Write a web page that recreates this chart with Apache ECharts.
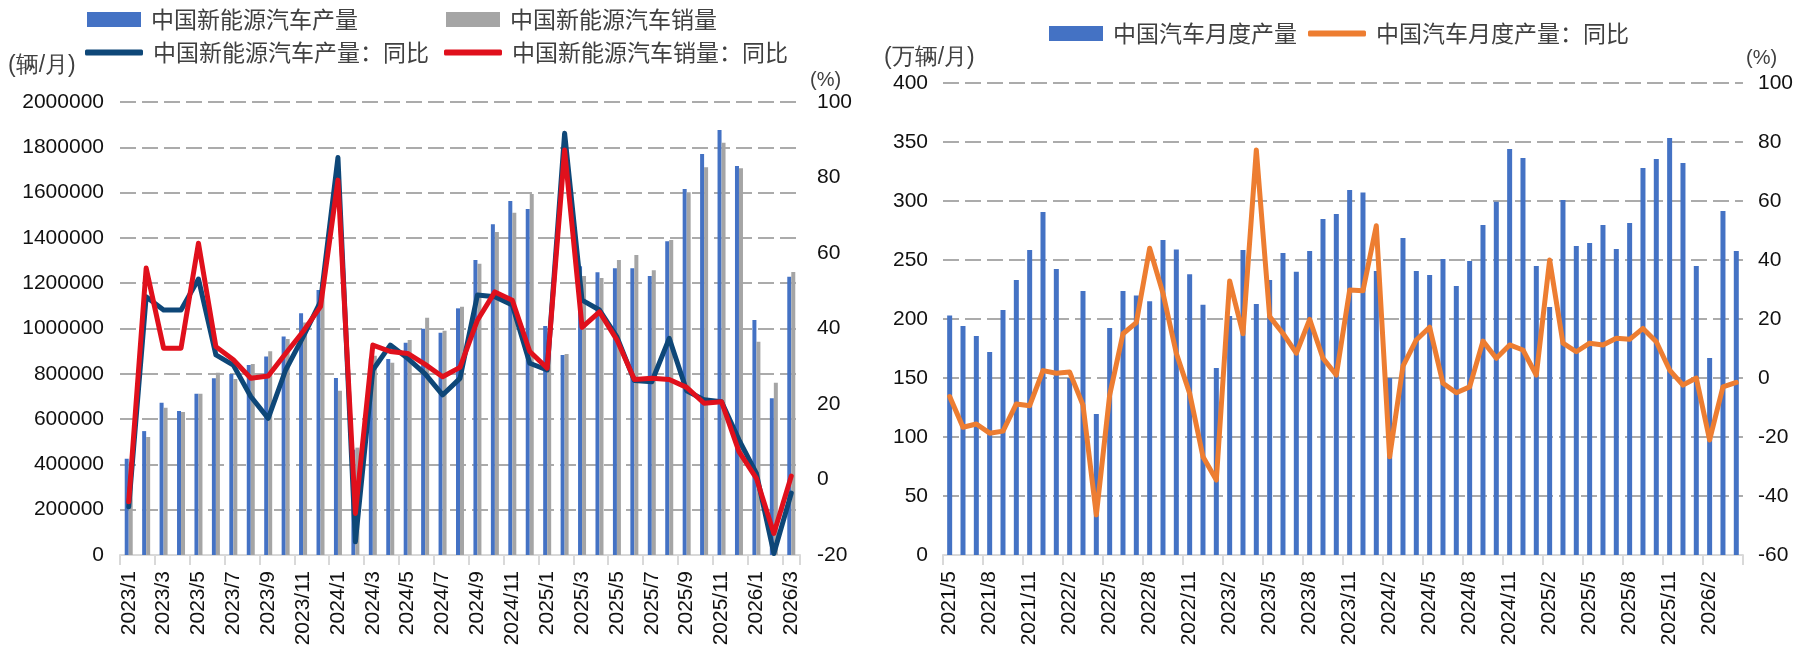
<!DOCTYPE html>
<html>
<head>
<meta charset="utf-8">
<script src="https://cdn.jsdelivr.net/npm/echarts@6/dist/echarts.min.js"></script>
<style>html,body{margin:0;padding:0;background:#fff}#c{width:1796px;height:654px}</style>
</head>
<body>
<div id="c"></div>
<script>
// ---- Left chart data (NEV, 2023/1 - 2026/3) ----
const catsL = ['2023/1','2023/2','2023/3','2023/4','2023/5','2023/6','2023/7','2023/8','2023/9','2023/10','2023/11','2023/12',
  '2024/1','2024/2','2024/3','2024/4','2024/5','2024/6','2024/7','2024/8','2024/9','2024/10','2024/11','2024/12',
  '2025/1','2025/2','2025/3','2025/4','2025/5','2025/6','2025/7','2025/8','2025/9','2025/10','2025/11','2025/12',
  '2026/1','2026/2','2026/3'];
const nevProd = [425000, 547000, 672000, 636000, 712000, 780000, 799000, 839000, 876000, 965000, 1067000, 1170000,
  781000, 465000, 868000, 865000, 937000, 999000, 981000, 1089000, 1302000, 1460000, 1563000, 1528000,
  1011000, 883000, 1275000, 1248000, 1266000, 1266000, 1232000, 1385000, 1616000, 1770000, 1876000, 1717000,
  1037000, 692000, 1229000];
const nevSales = [408000, 521000, 650000, 631000, 712000, 805000, 777000, 843000, 900000, 954000, 1026000, 1191000,
  725000, 474000, 880000, 849000, 949000, 1048000, 990000, 1096000, 1286000, 1426000, 1511000, 1594000,
  944000, 887000, 1232000, 1223000, 1302000, 1324000, 1257000, 1391000, 1601000, 1712000, 1820000, 1707000,
  942000, 761000, 1249000];
const nevProdYoY = [-7.2, 48.4, 44.9, 44.9, 53.1, 33, 30.3, 22, 16.2, 29, 37.8, 47.1,
  85.3, -16.5, 29, 35.6, 32.1, 28, 22.4, 26.8, 48.9, 48.4, 46.2, 30.8,
  29, 91.7, 47.5, 44.9, 37.8, 26.2, 25.9, 37.4, 23.5, 21.1, 20.6, 10.5,
  1.6, -19.6, -3.6];
const nevSalesYoY = [-5.9, 56, 34.8, 34.8, 62.6, 35.2, 31.7, 26.8, 27.4, 33.4, 39.2, 45.8,
  79.3, -9, 35.6, 33.9, 33.4, 30.5, 27.2, 29.7, 42.2, 49.7, 47.5, 33.9,
  29.5, 87.3, 40.3, 44.4, 37, 26.5, 26.8, 26.5, 24.4, 20.2, 20.6, 7.4,
  0.3, -14.3, 0.9];

// ---- Right chart data (all vehicles, 2021/5 - 2026/4) ----
const catsR = ['2021/5','2021/6','2021/7','2021/8','2021/9','2021/10','2021/11','2021/12',
  '2022/1','2022/2','2022/3','2022/4','2022/5','2022/6','2022/7','2022/8','2022/9','2022/10','2022/11','2022/12',
  '2023/1','2023/2','2023/3','2023/4','2023/5','2023/6','2023/7','2023/8','2023/9','2023/10','2023/11','2023/12',
  '2024/1','2024/2','2024/3','2024/4','2024/5','2024/6','2024/7','2024/8','2024/9','2024/10','2024/11','2024/12',
  '2025/1','2025/2','2025/3','2025/4','2025/5','2025/6','2025/7','2025/8','2025/9','2025/10','2025/11','2025/12',
  '2026/1','2026/2','2026/3','2026/4'];
const autoProd = [203, 194, 185.6, 172, 207.6, 233, 258.5, 290.7,
  242.4, 150, 223.7, 119.5, 192.4, 223.7, 220, 215, 267, 259, 238, 212,
  158.5, 202.5, 258.5, 212.7, 233, 256, 240, 257.6, 284.7, 289, 309.3, 307.3,
  240.7, 150, 268.6, 240.7, 237.3, 250.8, 228, 249.2, 279.7, 299.4, 344, 336.4,
  244.9, 210.2, 300.8, 261.9, 264.4, 279.7, 259.3, 281.4, 328, 335.6, 353.4, 332.2,
  244.9, 167, 291.5, 257.6];
const autoYoY = [-6.3, -16.7, -15.6, -18.7, -18, -8.8, -9.4, 2.5,
  1.6, 2, -9.2, -46.4, -5.8, 15, 18.8, 44, 28.7, 8.4, -5.2, -26.7,
  -34.6, 32.9, 15, 77.3, 20.8, 15.1, 8.4, 19.9, 6.7, 1, 29.8, 29.6,
  51.6, -26.7, 4, 12.9, 17.2, -1.8, -5, -3, 12.5, 6.7, 11.2, 9.5,
  1, 40, 11.8, 8.9, 11.8, 11.2, 13.5, 13.1, 16.8, 12.3, 2.7, -2.4,
  0, -21, -3, -1.5];

const NUM_FONT = 'Liberation Sans, Arial, sans-serif';
const CJK_FONT = 'Noto Sans CJK SC, sans-serif';
const gridLine = {show: true, lineStyle: {type: [16, 6], color: '#ABABAB', width: 2}};
const axisLineX = {show: true, lineStyle: {color: '#D9D9D9', width: 2}};
const numLabel = {color: '#111', fontSize: 21, fontFamily: NUM_FONT};

const chart = echarts.init(document.getElementById('c'), null, {renderer: 'canvas'});

function legendItem(name, left, top, icon, w, h) {
  return {
    show: true, selectedMode: false, data: [name], left: left, top: top, padding: 0,
    icon: icon, itemWidth: w, itemHeight: h,
    textStyle: {fontSize: 23, color: '#404040', fontFamily: CJK_FONT, padding: [0, 0, 0, 5]}
  };
}

chart.setOption({
  animation: false,
  backgroundColor: '#ffffff',
  grid: [
    {left: 120, right: 996, top: 102, bottom: 99, containLabel: false},
    {left: 943, right: 53, top: 83, bottom: 99, containLabel: false}
  ],
  legend: [
    legendItem('中国新能源汽车产量', 87, 8, 'rect', 54, 15),
    legendItem('中国新能源汽车销量', 446, 8, 'rect', 54, 15),
    legendItem('中国新能源汽车产量：同比', 85, 41, 'roundRect', 58, 6),
    legendItem('中国新能源汽车销量：同比', 444, 41, 'roundRect', 58, 6),
    legendItem('中国汽车月度产量', 1049, 22, 'rect', 54, 15),
    legendItem('中国汽车月度产量：同比', 1308, 22, 'roundRect', 58, 6)
  ],
  xAxis: [
    {type: 'category', gridIndex: 0, data: catsL, boundaryGap: true,
     axisLine: axisLineX,
     axisTick: {show: true, interval: 1, length: 10, lineStyle: {color: '#D9D9D9', width: 2}},
     axisLabel: Object.assign({}, numLabel, {interval: 1, rotate: 90, margin: 16}),
     splitLine: {show: false}},
    {type: 'category', gridIndex: 1, data: catsR, boundaryGap: true,
     axisLine: axisLineX,
     axisTick: {show: true, interval: 2, length: 10, lineStyle: {color: '#D9D9D9', width: 2}},
     axisLabel: Object.assign({}, numLabel, {interval: 2, rotate: 90, margin: 16}),
     splitLine: {show: false}}
  ],
  yAxis: [
    {type: 'value', gridIndex: 0, min: 0, max: 2000000, interval: 200000, position: 'left',
     axisLine: {show: false}, axisTick: {show: false},
     axisLabel: Object.assign({}, numLabel, {margin: 16, formatter: v => String(v)}),
     splitLine: gridLine},
    {type: 'value', gridIndex: 0, min: -20, max: 100, interval: 20, position: 'right',
     axisLine: {show: false}, axisTick: {show: false},
     axisLabel: Object.assign({}, numLabel, {margin: 17}),
     splitLine: {show: false}},
    {type: 'value', gridIndex: 1, min: 0, max: 400, interval: 50, position: 'left',
     axisLine: {show: false}, axisTick: {show: false},
     axisLabel: Object.assign({}, numLabel, {margin: 15}),
     splitLine: gridLine},
    {type: 'value', gridIndex: 1, min: -60, max: 100, interval: 20, position: 'right',
     axisLine: {show: false}, axisTick: {show: false},
     axisLabel: Object.assign({}, numLabel, {margin: 15}),
     splitLine: {show: false}}
  ],
  series: [
    {type: 'bar', name: '中国新能源汽车产量', xAxisIndex: 0, yAxisIndex: 0, data: nevProd,
     barWidth: 4, barGap: '0%', itemStyle: {color: '#4472C4'}, z: 2},
    {type: 'bar', name: '中国新能源汽车销量', xAxisIndex: 0, yAxisIndex: 0, data: nevSales,
     barWidth: 4, barGap: '0%', itemStyle: {color: '#A5A5A5'}, z: 2},
    {type: 'line', name: '中国新能源汽车产量：同比', xAxisIndex: 0, yAxisIndex: 1, data: nevProdYoY,
     symbol: 'none', lineStyle: {width: 5, color: '#0E4778', join: 'round', cap: 'round'},
     itemStyle: {color: '#0E4778'}, z: 3},
    {type: 'line', name: '中国新能源汽车销量：同比', xAxisIndex: 0, yAxisIndex: 1, data: nevSalesYoY,
     symbol: 'none', lineStyle: {width: 5, color: '#E0101C', join: 'round', cap: 'round'},
     itemStyle: {color: '#E0101C'}, z: 4},
    {type: 'bar', name: '中国汽车月度产量', xAxisIndex: 1, yAxisIndex: 2, data: autoProd,
     barWidth: 5, itemStyle: {color: '#4472C4'}, z: 2},
    {type: 'line', name: '中国汽车月度产量：同比', xAxisIndex: 1, yAxisIndex: 3, data: autoYoY,
     symbol: 'none', lineStyle: {width: 5, color: '#ED7D31', join: 'round', cap: 'round'},
     itemStyle: {color: '#ED7D31'}, z: 3}
  ],
  graphic: [
    {type: 'text', left: 8, top: 54, style: {text: '(辆/月)', fontSize: 23, fill: '#404040', font: '23px ' + CJK_FONT}},
    {type: 'text', left: 810, top: 70, style: {text: '(%)', fontSize: 20, fill: '#404040', font: '20px ' + CJK_FONT}},
    {type: 'text', left: 884, top: 46, style: {text: '(万辆/月)', fontSize: 23, fill: '#404040', font: '23px ' + CJK_FONT}},
    {type: 'text', left: 1746, top: 48, style: {text: '(%)', fontSize: 20, fill: '#404040', font: '20px ' + CJK_FONT}}
  ]
});
</script>
</body>
</html>
